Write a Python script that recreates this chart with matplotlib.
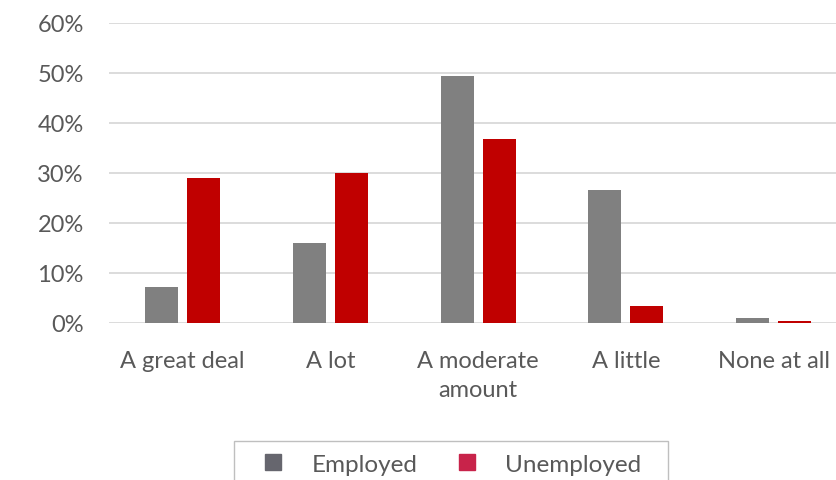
import numpy as np
import matplotlib.pyplot as plt
from matplotlib.lines import Line2D
from matplotlib.patches import Rectangle
from matplotlib.ticker import PercentFormatter

categories = ["A great deal", "A lot", "A moderate\namount", "A little", "None at all"]
employed = [0.072, 0.159, 0.493, 0.266, 0.009]
unemployed = [0.290, 0.300, 0.368, 0.034, 0.004]
series_names = ["Employed", "Unemployed"]

grey = "#808080"
red = "#C00000"
text_col = "#595959"
font = "Lato"

fig = plt.figure(figsize=(8.37, 4.81), dpi=100)
ax = fig.add_axes([0.1299, 0.3274, 0.8826, 0.6237])

x = np.arange(len(categories))
w = 0.223
ax.bar(x - 0.142, employed, w, color=grey, zorder=3)
ax.bar(x + 0.142, unemployed, w, color=red, zorder=3)

ax.set_xlim(-0.5, len(categories) - 0.5)
ax.set_ylim(0, 0.6)
ax.set_yticks(np.arange(0, 0.61, 0.1))
ax.yaxis.set_major_formatter(PercentFormatter(1.0, decimals=0))
ax.set_xticks(x)
ax.set_xticklabels(categories, linespacing=1.45)
ax.grid(axis="y", color="#d9d9d9", linewidth=1.3, zorder=0)
for s in ax.spines.values():
    s.set_visible(False)
ax.tick_params(axis="both", length=0, colors=text_col, labelsize=17)
ax.tick_params(axis="y", pad=18)
ax.tick_params(axis="x", pad=20)
for lab in ax.get_xticklabels() + ax.get_yticklabels():
    lab.set_family(font)

# legend (frame drawn by hand, it runs off the bottom of the picture)
handles = [Line2D([], [], marker="s", ls="none", ms=11, color="#66666e"),
           Line2D([], [], marker="s", ls="none", ms=11, color="#c8234a")]
fig.legend(handles, series_names, loc="center left",
           bbox_to_anchor=(263.5 / 837, 1 - 465 / 481), frameon=False,
           ncol=2, handlelength=0.82, handletextpad=1.15, columnspacing=1.65,
           borderpad=0, borderaxespad=0,
           prop={"family": font, "size": 17.5}, labelcolor=text_col)
fig.add_artist(Rectangle((234 / 837, -0.05), 434 / 837, 0.05 + 1 - 441.7 / 481,
                         transform=fig.transFigure, fill=False,
                         edgecolor="#bfbfbf", linewidth=1))

fig.savefig("out.png", dpi=100)
